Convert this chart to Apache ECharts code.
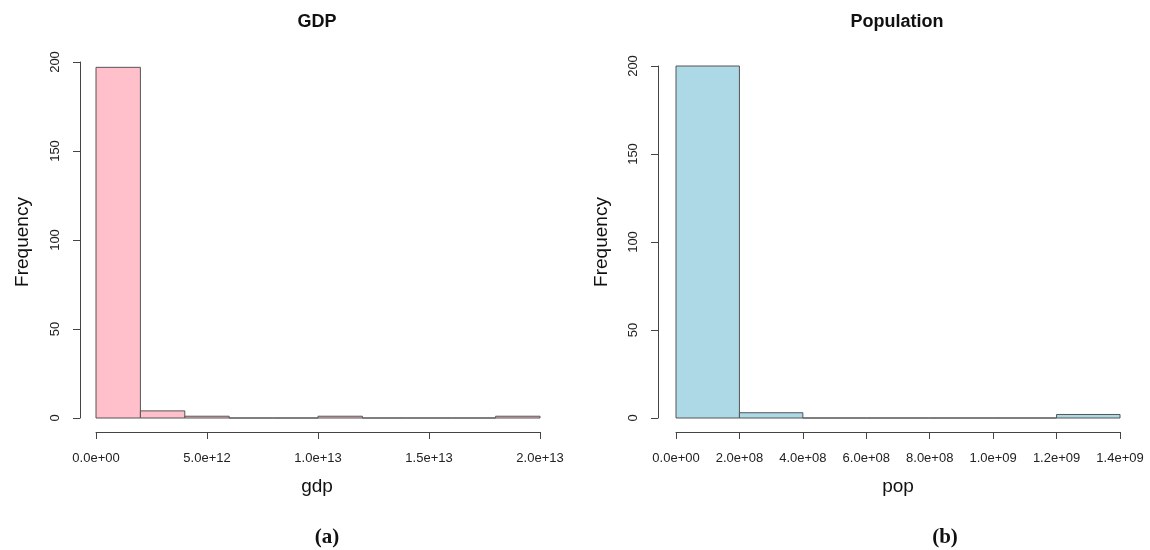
<!DOCTYPE html>
<html>
<head>
<meta charset="utf-8">
<script src="https://cdn.jsdelivr.net/npm/echarts@6/dist/echarts.min.js"></script>
<style>
html,body{margin:0;padding:0;background:#fff;}
#chart{width:1150px;height:550px;}
</style>
</head>
<body>
<div id="chart"></div>
<script>
// GDP histogram: bin edges and counts
const gdpBreaks = [0, 2e12, 4e12, 6e12, 8e12, 1e13, 1.2e13, 1.4e13, 1.6e13, 1.8e13, 2e13];
const gdpCounts = [197, 4, 1, 0, 0, 1, 0, 0, 0, 1];
// Population histogram: bin edges and counts
const popBreaks = [0, 2e8, 4e8, 6e8, 8e8, 1e9, 1.2e9, 1.4e9];
const popCounts = [200, 3, 0, 0, 0, 0, 2];
// Axis ticks
const freqTicks = [0, 50, 100, 150, 200];
const gdpTickStep = 5e12;
const popTickStep = 2e8;

function toBins(breaks, counts) {
  return counts.map((c, i) => [breaks[i], breaks[i + 1], c]);
}
function sciFmt(v) {
  let s = Number(v).toExponential(1);
  return s.replace(/e([+-])(\d)$/, 'e$10$2');
}
function histItem(params, api) {
  const p0 = api.coord([api.value(0), api.value(2)]);
  const p1 = api.coord([api.value(1), 0]);
  return {
    type: 'rect',
    shape: { x: p0[0], y: p0[1], width: p1[0] - p0[0], height: p1[1] - p0[1] },
    style: api.style({ stroke: '#555555', lineWidth: 1 })
  };
}

const font = 'Liberation Sans, Arial, sans-serif';
const axisCol = '#444';
function xAxisCfg(idx, max, step) {
  return {
    type: 'value', gridIndex: idx, min: 0, max: max, interval: step,
    offset: 14,
    axisLine: { show: true, onZero: false, lineStyle: { color: axisCol, width: 1 } },
    axisTick: { show: true, length: 7, lineStyle: { color: axisCol } },
    axisLabel: { formatter: sciFmt, fontFamily: font, fontSize: 13, color: '#222', margin: 20 },
    splitLine: { show: false }
  };
}
function yAxisCfg(idx, off) {
  return {
    type: 'value', gridIndex: idx, min: freqTicks[0], max: freqTicks[freqTicks.length - 1],
    interval: freqTicks[1] - freqTicks[0],
    offset: off,
    axisLine: { show: true, onZero: false, lineStyle: { color: axisCol, width: 1 } },
    axisTick: { show: true, length: 7, lineStyle: { color: axisCol } },
    axisLabel: { rotate: 90, fontFamily: font, fontSize: 13, color: '#222', margin: 18 },
    splitLine: { show: false }
  };
}

const chart = echarts.init(document.getElementById('chart'), null, { renderer: 'canvas' });
chart.setOption({
  backgroundColor: '#ffffff',
  animation: false,
  grid: [
    { left: 96, right: 610, top: 62, bottom: 132 },
    { left: 676, right: 30, top: 66, bottom: 132 }
  ],
  xAxis: [
    xAxisCfg(0, gdpBreaks[gdpBreaks.length - 1], gdpTickStep),
    xAxisCfg(1, popBreaks[popBreaks.length - 1], popTickStep)
  ],
  yAxis: [yAxisCfg(0, 16), yAxisCfg(1, 18)],
  series: [
    {
      type: 'custom', xAxisIndex: 0, yAxisIndex: 0,
      renderItem: histItem,
      itemStyle: { color: '#FFC0CB' },
      encode: { x: [0, 1], y: 2 },
      data: toBins(gdpBreaks, gdpCounts)
    },
    {
      type: 'custom', xAxisIndex: 1, yAxisIndex: 1,
      renderItem: histItem,
      itemStyle: { color: '#ADD8E6' },
      encode: { x: [0, 1], y: 2 },
      data: toBins(popBreaks, popCounts)
    }
  ],
  graphic: [
    { type: 'text', x: 317, y: 22, style: { text: 'GDP', font: 'bold 18px ' + font, fill: '#111', align: 'center', verticalAlign: 'middle' } },
    { type: 'text', x: 897, y: 22, style: { text: 'Population', font: 'bold 18px ' + font, fill: '#111', align: 'center', verticalAlign: 'middle' } },
    { type: 'text', x: 23, y: 242, rotation: Math.PI / 2, style: { text: 'Frequency', font: '19px ' + font, fill: '#111', align: 'center', verticalAlign: 'middle' } },
    { type: 'text', x: 602, y: 242, rotation: Math.PI / 2, style: { text: 'Frequency', font: '19px ' + font, fill: '#111', align: 'center', verticalAlign: 'middle' } },
    { type: 'text', x: 317, y: 487, style: { text: 'gdp', font: '19px ' + font, fill: '#111', align: 'center', verticalAlign: 'middle' } },
    { type: 'text', x: 898, y: 487, style: { text: 'pop', font: '19px ' + font, fill: '#111', align: 'center', verticalAlign: 'middle' } },
    { type: 'text', x: 327, y: 538, style: { text: '(a)', font: 'bold 21px Liberation Serif, Times New Roman, serif', fill: '#111', align: 'center', verticalAlign: 'middle' } },
    { type: 'text', x: 945, y: 538, style: { text: '(b)', font: 'bold 21px Liberation Serif, Times New Roman, serif', fill: '#111', align: 'center', verticalAlign: 'middle' } }
  ]
});
</script>
</body>
</html>
